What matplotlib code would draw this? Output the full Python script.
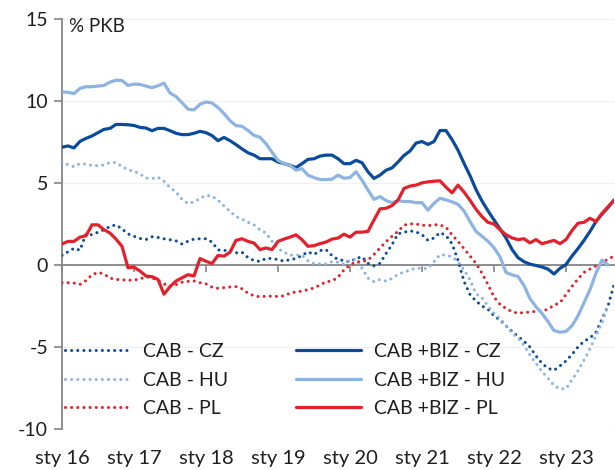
import numpy as np
import matplotlib
matplotlib.use("Agg")
import matplotlib.pyplot as plt
import matplotlib.transforms as mtransforms

plt.rcParams['font.family'] = ['Lato', 'DejaVu Sans']
plt.rcParams['axes.unicode_minus'] = False

# ---------------- data (monthly, Jan 2016 onwards, % of GDP) ----------------
year_labels = ["sty 16", "sty 17", "sty 18", "sty 19", "sty 20", "sty 21", "sty 22", "sty 23"]

cab_cz = [0.59, 0.80, 1.02, 0.90, 1.90, 1.84, 2.00, 2.15, 2.35, 2.45,
          2.20, 1.90, 1.75, 1.62, 1.55, 1.72, 1.68, 1.60, 1.54, 1.47,
          1.28, 1.45, 1.58, 1.60, 1.60, 1.40, 0.92, 0.88, 0.92, 0.74,
          0.78, 0.45, 0.27, 0.22, 0.40, 0.40, 0.33, 0.23, 0.33, 0.39,
          0.59, 0.80, 0.64, 0.88, 0.94, 0.57, 0.33, 0.27, 0.19, 0.40,
          0.50, 0.10, -0.05, 0.10, 0.70, 1.24, 1.90, 2.00, 2.08, 2.02,
          1.85, 1.50, 1.65, 1.98, 1.80, 1.30, 0.30, -1.00, -1.80, -2.20,
          -2.50, -2.70, -3.10, -3.35, -3.70, -4.05, -4.35, -4.65, -5.00, -5.55,
          -6.00, -6.30, -6.42, -6.15, -5.85, -5.45, -5.00, -4.65, -4.45, -4.10,
          -3.30, -2.50, -1.20]

cab_hu = [6.33, 6.11, 5.99, 6.19, 6.15, 6.07, 6.05, 6.10, 6.25, 6.25,
          6.00, 5.80, 5.72, 5.55, 5.30, 5.27, 5.35, 5.10, 4.73, 4.45,
          4.00, 3.75, 3.85, 4.05, 4.25, 4.20, 3.95, 3.60, 3.27, 2.95,
          2.80, 2.60, 2.45, 2.15, 1.95, 1.45, 1.00, 0.78, 0.60, 0.60,
          0.60, 0.25, 0.08, 0.07, 0.07, 0.20, 0.17, 0.05, 0.30, 0.35,
          -0.20, -0.80, -1.02, -0.88, -0.98, -0.82, -0.57, -0.43, -0.31, -0.17,
          -0.23, -0.20, 0.20, 0.63, 0.60, 0.50, 0.20, -0.30, -0.90, -1.75,
          -2.00, -2.50, -2.95, -3.26, -3.70, -4.15, -4.45, -4.90, -5.50, -6.00,
          -6.50, -6.90, -7.35, -7.55, -7.55, -7.00, -6.45, -5.80, -5.10, -4.30,
          -3.50, -2.50]

cab_pl = [-1.08, -1.08, -1.10, -1.18, -0.95, -0.60, -0.45, -0.55, -0.80, -0.88,
          -0.90, -0.93, -0.92, -0.85, -0.72, -0.78, -0.95, -1.15, -1.30, -1.20,
          -1.05, -1.00, -0.97, -1.08, -1.15, -1.35, -1.42, -1.38, -1.34, -1.32,
          -1.45, -1.72, -1.88, -1.94, -1.90, -1.90, -1.92, -1.88, -1.72, -1.64,
          -1.60, -1.50, -1.40, -1.22, -1.02, -0.98, -0.74, -0.30, 0.00, 0.20,
          0.20, 0.30, 0.65, 1.04, 1.42, 1.75, 2.05, 2.43, 2.51, 2.50,
          2.43, 2.40, 2.45, 2.45, 2.30, 1.84, 1.44, 1.00, 0.55, 0.10,
          -0.50, -1.20, -1.95, -2.40, -2.65, -2.85, -2.94, -2.90, -2.87, -2.82,
          -2.80, -2.70, -2.45, -2.30, -1.80, -1.30, -0.85, -0.45, -0.25, -0.05,
          0.15, 0.35, 0.55]

cabbiz_cz = [7.18, 7.26, 7.14, 7.54, 7.72, 7.87, 8.07, 8.27, 8.33, 8.57,
             8.57, 8.55, 8.51, 8.39, 8.35, 8.19, 8.33, 8.33, 8.19, 8.03,
             7.95, 7.95, 8.03, 8.15, 8.07, 7.89, 7.58, 7.78, 7.58, 7.34,
             7.08, 6.84, 6.70, 6.48, 6.48, 6.48, 6.28, 6.18, 6.08, 5.94,
             6.18, 6.44, 6.48, 6.64, 6.70, 6.70, 6.48, 6.18, 6.18, 6.38,
             6.24, 5.68, 5.28, 5.48, 5.78, 5.92, 6.28, 6.68, 6.95, 7.43,
             7.53, 7.35, 7.53, 8.20, 8.20, 7.65, 7.00, 6.20, 5.45, 4.60,
             3.90, 3.30, 2.75, 2.20, 1.65, 0.95, 0.45, 0.20, 0.05, -0.03,
             -0.12, -0.25, -0.55, -0.20, 0.03, 0.55, 1.00, 1.50, 2.05, 2.65,
             3.10, 3.50, 3.95]

cabbiz_hu = [10.55, 10.53, 10.45, 10.77, 10.87, 10.87, 10.91, 10.95, 11.15, 11.27,
             11.25, 10.95, 11.03, 11.01, 10.91, 10.81, 10.93, 11.09, 10.49, 10.27,
             9.90, 9.50, 9.46, 9.80, 9.94, 9.88, 9.60, 9.24, 8.80, 8.50,
             8.46, 8.20, 7.90, 7.79, 7.39, 6.88, 6.38, 6.18, 6.08, 5.78,
             5.88, 5.48, 5.33, 5.21, 5.21, 5.23, 5.48, 5.29, 5.33, 5.68,
             5.17, 4.57, 4.00, 4.17, 3.93, 3.80, 3.93, 3.87, 3.87, 3.80,
             3.80, 3.35, 3.76, 4.07, 3.97, 3.85, 3.70, 3.30, 2.65, 2.05,
             1.75, 1.45, 1.05, 0.50, -0.45, -0.60, -0.70, -1.25, -2.05, -2.55,
             -2.95, -3.45, -4.00, -4.10, -4.05, -3.70, -3.10, -2.30, -1.50, -0.50,
             0.30, 0.00]

cabbiz_pl = [1.28, 1.44, 1.44, 1.70, 1.78, 2.45, 2.45, 2.15, 1.95, 1.58,
             1.14, -0.17, -0.13, -0.37, -0.67, -0.71, -0.88, -1.78, -1.32, -0.98,
             -0.78, -0.59, -0.67, 0.39, 0.23, 0.09, 0.58, 0.54, 0.78, 1.50,
             1.60, 1.44, 1.34, 0.94, 1.04, 0.94, 1.44, 1.58, 1.70, 1.84,
             1.54, 1.14, 1.18, 1.30, 1.40, 1.58, 1.64, 1.88, 1.70, 2.00,
             2.00, 2.05, 2.75, 3.42, 3.46, 3.62, 3.96, 4.67, 4.81, 4.87,
             5.01, 5.07, 5.11, 5.13, 4.75, 4.40, 4.87, 4.45, 3.95, 3.40,
             2.95, 2.60, 2.50, 2.15, 1.85, 1.65, 1.55, 1.60, 1.35, 1.55,
             1.30, 1.40, 1.50, 1.30, 1.55, 2.10, 2.55, 2.60, 2.85, 2.65,
             3.15, 3.55, 3.95]

labels_cab = ["CAB - CZ", "CAB - HU", "CAB - PL"]
labels_biz = ["CAB +BIZ - CZ", "CAB +BIZ - HU", "CAB +BIZ - PL"]

# ---------------- styling ----------------
DARK = '#0a4b9b'
LIGHT = '#8db3e2'
RED = '#e3202c'
GREY = '#858585'
TXT = '#1e1e1e'
colors = [DARK, LIGHT, RED]

fig = plt.figure(figsize=(6.15, 4.7), dpi=100)
ax = fig.add_axes([62 / 615, 41 / 470, 552 / 615, 410 / 470])

dotted = (0, (0.01, 2.0))

cab_series = [cab_cz, cab_hu, cab_pl]
biz_series = [cabbiz_cz, cabbiz_hu, cabbiz_pl]

handles_cab = []
for s, c, lab in zip(cab_series, colors, labels_cab):
    x = np.arange(len(s))
    h, = ax.plot(x, s, color=c, lw=2.2, linestyle=dotted,
                 dash_capstyle='round', label=lab, zorder=3)
    handles_cab.append(h)

handles_biz = []
for s, c, lab in zip(biz_series, colors, labels_biz):
    x = np.arange(len(s))
    h, = ax.plot(x, s, color=c, lw=2.3, solid_capstyle='round',
                 solid_joinstyle='round', label=lab, zorder=4)
    handles_biz.append(h)

ax.set_xlim(0, 92)
ax.set_ylim(-10, 15)

ax.set_yticks([-10, -5, 0, 5, 10, 15])
ax.yaxis.grid(True, color='#f0f0f0', lw=0.9, zorder=0)
ax.set_axisbelow(True)
ax.tick_params(axis='y', direction='out', length=6, width=1.2, color=GREY,
               labelsize=14, pad=4, labelcolor=TXT)

for side in ['top', 'right']:
    ax.spines[side].set_visible(False)
ax.spines['left'].set_color(GREY)
ax.spines['left'].set_linewidth(1.3)
ax.spines['bottom'].set_position(('data', 0))
ax.spines['bottom'].set_color(GREY)
ax.spines['bottom'].set_linewidth(1.3)
ax.spines['bottom'].set_zorder(2)

year_ticks = np.arange(0, 12 * len(year_labels), 12)
ax.set_xticks(year_ticks)
ax.tick_params(axis='x', direction='out', length=5, width=1.2, color=GREY,
               labelbottom=False)

sec = ax.secondary_xaxis('bottom')
sec.set_xticks(year_ticks)
sec.set_xticklabels(year_labels)
sec.tick_params(length=0, pad=15, labelsize=14.5, labelcolor=TXT)
sec.spines['bottom'].set_visible(False)

ax.text(0.012, 14.55, "% PKB", fontsize=13.5, color=TXT, ha='left', va='center',
        transform=mtransforms.blended_transform_factory(ax.transAxes, ax.transData))

leg_kw = dict(loc='upper left', frameon=False, fontsize=14,
              handlelength=3.35, handletextpad=0.65, labelspacing=0.6,
              borderpad=0, borderaxespad=0)
leg1 = ax.legend(handles=handles_cab, bbox_to_anchor=(0.005, 0.210), **leg_kw)
for t in leg1.get_texts():
    t.set_color(TXT)
ax.add_artist(leg1)
leg2 = ax.legend(handles=handles_biz, bbox_to_anchor=(0.424, 0.210), **leg_kw)
for t in leg2.get_texts():
    t.set_color(TXT)

fig.savefig("out.png", dpi=100)
